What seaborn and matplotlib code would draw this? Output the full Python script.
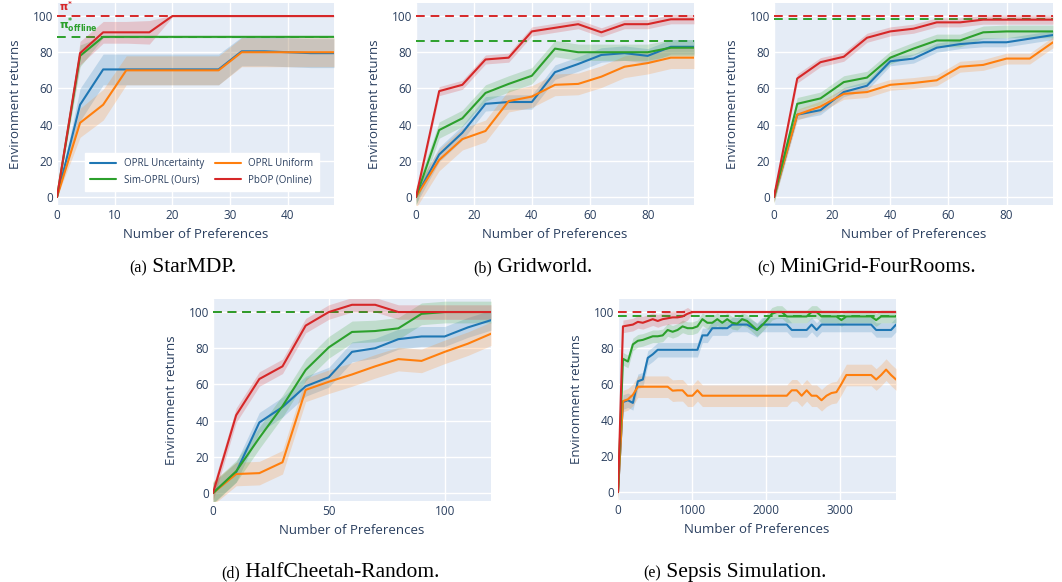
import numpy as np
import matplotlib
matplotlib.use("Agg")
import matplotlib.pyplot as plt
import seaborn as sns

# ─── Data ────────────────────────────────────────────────────────────────────
SERIES = ["OPRL Uncertainty", "OPRL Uniform", "Sim-OPRL (Ours)", "PbOP (Online)"]
COLORS = ["#1f77b4", "#ff7f0e", "#2ca02c", "#d62728"]

# (a) StarMDP
A_X = [0, 4, 8, 12, 16, 20, 24, 28, 32, 36, 40, 44, 48]
A_UNC = [0, 51, 70.5, 70.5, 70.5, 70.5, 70.5, 70.5, 80.5, 80.5, 80, 79.5, 79.5]
A_UNI = [0, 41, 51, 70, 70, 70, 70, 70, 80, 80, 80, 80, 80]
A_SIM = [0, 78, 88.5, 88.5, 88.5, 88.5, 88.5, 88.5, 88.5, 88.5, 88.5, 88.5, 88.5]
A_PBOP = [0, 79.5, 91, 91, 91, 100, 100, 100, 100, 100, 100, 100, 100]
A_UNC_ERR = [0, 9, 8.5, 8.5, 8.5, 8.5, 8.5, 8.5, 8, 8, 8, 8, 8]
A_UNI_ERR = [0, 8, 8.5, 8, 8, 8, 8, 8, 8, 8, 8, 8, 8]
A_SIM_ERR = [0, 6, 0.5, 0.5, 0.5, 0.5, 0.5, 0.5, 0.5, 0.5, 0.5, 0.5, 0.5]
A_PBOP_ERR = [0, 6.5, 6, 6, 6.5, 0.5, 0.5, 0.5, 0.5, 0.5, 0.5, 0.5, 0.5]
A_OFFLINE = 88.5

# (b) Gridworld
B_X = [0, 8, 16, 24, 32, 40, 48, 56, 64, 72, 80, 88, 96]
B_UNC = [0, 23.5, 35.5, 51.5, 52.5, 52.5, 69, 73.5, 78.5, 79.5, 78, 83, 83]
B_UNI = [0, 20.5, 32, 36.5, 53, 55.5, 62, 62.5, 66.5, 72, 74, 77, 77]
B_SIM = [0, 37, 43.5, 57.5, 62.5, 67, 82, 80, 80, 80, 80, 82.5, 82.5]
B_PBOP = [0, 58.5, 62, 76, 77, 91.5, 93.5, 95.5, 91, 95.5, 95.5, 98.2, 98.2]
B_ERR = [4, 6, 4.5, 2.5]
B_OFFLINE = 86.2

# (c) MiniGrid-FourRooms
C_X = [0, 8, 16, 24, 32, 40, 48, 56, 64, 72, 80, 88, 96]
C_UNC = [0, 45.5, 48, 58, 61.5, 75, 76.5, 82.5, 84.5, 85.5, 85.5, 87.5, 89.5]
C_UNI = [0, 45.5, 50, 57, 58, 62, 63, 64.5, 72, 73, 76.5, 76.5, 85.5]
C_SIM = [0, 51.5, 54.5, 63.5, 66, 77, 82, 86.5, 86.5, 91, 91.5, 91.5, 91.5]
C_PBOP = [0, 65.5, 74.5, 77.5, 88, 91.5, 93, 96.5, 96.5, 98, 98, 98, 98]
C_ERR = [2.5, 3, 3.5, 2.5]
C_OFFLINE = 98.3

# (d) HalfCheetah-Random
D_X = [0, 10, 20, 30, 40, 50, 60, 70, 80, 90, 100, 110, 120]
D_UNC = [0, 11.5, 39, 47.5, 59, 64, 78, 80, 85, 86.5, 86.5, 91.5, 95.5]
D_UNI = [0, 10.5, 11, 17, 57, 61.5, 65.5, 70, 74, 73, 78, 82.5, 88]
D_SIM = [0, 12, 30.5, 48, 68, 80.5, 89, 89.5, 91, 99, 100, 100, 100]
D_PBOP = [0, 43, 63, 70, 92.5, 100, 104, 104, 100, 100, 100, 100, 100]
D_ERR = [5.5, 6.5, 6, 4]
D_OFFLINE = 100

# (e) Sepsis Simulation
E_X = [0, 67, 134, 201, 268, 335, 402, 469, 536, 603, 670, 737, 804, 871, 938,
       1005, 1072, 1139, 1206, 1273, 1340, 1407, 1474, 1541, 1608, 1675, 1742,
       1809, 1876, 1943, 2010, 2077, 2144, 2211, 2278, 2345, 2412, 2479, 2546,
       2613, 2680, 2747, 2814, 2881, 2948, 3015, 3082, 3149, 3216, 3283, 3350,
       3417, 3484, 3551, 3618, 3685, 3752]
E_UNC = [0, 50, 51, 49.5, 61.5, 62.5, 74.5, 76.5, 79, 79, 79, 79, 79, 79, 79,
         79, 79, 87, 87, 91, 91, 91, 91, 93, 93, 93, 93, 91.5, 90, 93,
         93, 93, 93, 93, 93, 90, 90, 90, 90, 93, 90, 93, 93, 93, 93,
         93, 93, 93, 93, 93, 93, 93, 90, 90, 90, 90, 93]
E_UNI = [0, 50.5, 51.5, 54, 58.5, 58.5, 58.5, 58.5, 58.5, 58.5, 58.5, 56.3, 56.5, 56.5, 53.5,
         53.5, 56.5, 53.5, 53.5, 53.5, 53.5, 53.5, 53.5, 53.5, 53.5, 53.5, 53.5, 53.5, 53.5, 53.5,
         53.5, 53.5, 53.5, 53.5, 53.5, 56.5, 56.5, 53.5, 56.5, 53.5, 53.5, 51, 53.5, 55, 55.5,
         60, 65, 65, 65, 65, 65, 65, 62.5, 65, 68, 65, 62.5]
E_SIM = [0, 74, 72.5, 82, 84, 84.5, 85.5, 86.5, 86.5, 87, 90, 89, 90, 92, 91,
         91, 92, 96, 94, 94, 96, 94, 96, 94, 93.5, 96, 95, 92.5, 90, 92.5,
         95.5, 99, 100, 100, 97.5, 97.5, 97.5, 97.5, 97.5, 100, 100, 97.5, 97.5, 97.5, 97.5,
         95.5, 97.5, 97.5, 97.5, 97.5, 97.5, 97.5, 95.5, 97.5, 97.5, 97.5, 97.5]
E_PBOP = [0, 92, 92.5, 93, 94.5, 94, 95, 96, 95, 96, 96.5, 97, 97, 97.5, 99,
          100, 100, 100, 100, 100, 100, 100, 100, 100, 100, 100, 100, 100, 100, 100,
          100, 100, 100, 100, 100, 100, 100, 100, 100, 100, 100, 100, 100, 100, 100,
          100, 100, 100, 100, 100, 100, 100, 100, 100, 100, 100, 100]
E_PBOP_ERR = [3.5, 3.5, 3.5, 3.5, 3.5, 3.5, 3.5, 3.5, 3.5, 3.5, 3.5, 3.5, 3.5, 3.5, 3.5,
              0.6, 0.6, 0.6, 0.6, 0.6, 0.6, 0.6, 0.6, 0.6, 0.6, 0.6, 0.6, 0.6, 0.6, 0.6,
              0.6, 0.6, 0.6, 0.6, 0.6, 0.6, 0.6, 0.6, 0.6, 0.6, 0.6, 0.6, 0.6, 0.6, 0.6,
              0.6, 0.6, 0.6, 0.6, 0.6, 0.6, 0.6, 0.6, 0.6, 0.6, 0.6, 0.6]
E_ERR = [4, 6, 3.5, E_PBOP_ERR]
E_OFFLINE = 97.5

ONLINE = 100

X_TICKS = {"a": [0, 10, 20, 30, 40], "b": [0, 20, 40, 60, 80],
           "c": [0, 20, 40, 60, 80], "d": [0, 50, 100], "e": [0, 1000, 2000, 3000]}
Y_TICKS = [0, 20, 40, 60, 80, 100]

CAPTIONS = [("(a)", "StarMDP."), ("(b)", "Gridworld."), ("(c)", "MiniGrid-FourRooms."),
            ("(d)", "HalfCheetah-Random."), ("(e)", "Sepsis Simulation.")]

# ─── Style ────────────────────────────────────────────────────────────────────
sns.set_theme(style="darkgrid", rc={
    "axes.facecolor": "#E5ECF6", "grid.color": "white", "grid.linewidth": 1.0,
    "axes.edgecolor": "#E5ECF6", "xtick.color": "#2a3f5f", "ytick.color": "#2a3f5f",
    "axes.labelcolor": "#2a3f5f"})
plt.rcParams["font.family"] = ["Open Sans", "DejaVu Sans"]
plt.rcParams["mathtext.fontset"] = "dejavusans"

W, H = 1062, 582
fig = plt.figure(figsize=(W / 100, H / 100), dpi=100)


def rect(l, t, r, b):
    return [l / W, 1 - b / H, (r - l) / W, (b - t) / H]


def draw_panel(box, xs, means, errs, offline, xticks, xmax):
    ax = fig.add_axes(rect(*box))
    xs = np.asarray(xs, dtype=float)
    dash = (0, (4.5, 3))
    ax.axhline(ONLINE, color=COLORS[3], ls=dash, lw=1.4, zorder=1)
    ax.axhline(offline, color=COLORS[2], ls=dash, lw=1.4, zorder=1)
    for name, m, e, c in zip(SERIES, means, errs, COLORS):
        m = np.asarray(m, dtype=float)
        e = np.broadcast_to(np.asarray(e, dtype=float), m.shape)
        ax.fill_between(xs, m - e, m + e, color=c, alpha=0.2, lw=0, zorder=2)
        sns.lineplot(x=xs, y=m, color=c, lw=1.5, ax=ax, label=name, zorder=3,
                     legend=False)
    ax.set_xlim(0, xmax)
    ax.set_ylim(-4.4, 107.2)
    ax.set_xticks(xticks)
    ax.set_yticks(Y_TICKS)
    ax.tick_params(axis="both", length=0, labelsize=8.5, pad=3)
    ax.set_xlabel("Number of Preferences", fontsize=9.5)
    ax.set_ylabel("Environment returns", fontsize=9.5)
    ax.xaxis.set_label_coords(0.5, -0.115)
    ax.yaxis.set_label_coords(-0.125, 0.5)
    for s in ax.spines.values():
        s.set_visible(False)
    return ax


ax_a = draw_panel((57, 3, 334, 205), A_X, [A_UNC, A_UNI, A_SIM, A_PBOP],
                  [A_UNC_ERR, A_UNI_ERR, A_SIM_ERR, A_PBOP_ERR], A_OFFLINE, X_TICKS["a"], 48)
ax_b = draw_panel((416, 3, 694, 205), B_X, [B_UNC, B_UNI, B_SIM, B_PBOP],
                  B_ERR, B_OFFLINE, X_TICKS["b"], 96)
ax_c = draw_panel((774, 3, 1053, 205), C_X, [C_UNC, C_UNI, C_SIM, C_PBOP],
                  C_ERR, C_OFFLINE, X_TICKS["c"], 96)
ax_d = draw_panel((213, 299, 491, 501), D_X, [D_UNC, D_UNI, D_SIM, D_PBOP],
                  D_ERR, D_OFFLINE, X_TICKS["d"], 120)
ax_e = draw_panel((618, 299, 896, 500), E_X, [E_UNC, E_UNI, E_SIM, E_PBOP],
                  E_ERR, E_OFFLINE, X_TICKS["e"], 3752)

# legend on the StarMDP panel (row-major order like the original)
h, l = ax_a.get_legend_handles_labels()
order = [0, 2, 1, 3]
ax_a.legend([h[i] for i in order], [l[i] for i in order], ncol=2, loc="lower right",
            bbox_to_anchor=(0.965, 0.045), fontsize=7, frameon=True, fancybox=False,
            facecolor="white", edgecolor="white", framealpha=1, handlelength=2.6,
            columnspacing=1.2, borderpad=0.6, labelspacing=0.5, labelcolor="#2a3f5f")

# optimal-policy markers
ax_a.text(0.3, 100.9, r"$\mathbf{\pi^{*}}$", color=COLORS[3], fontsize=7.5,
          va="bottom", ha="left")
ax_a.text(0.3, 89.6, r"$\mathbf{\pi^{*}_{offline}}$", color=COLORS[2], fontsize=8,
          va="bottom", ha="left")

# ─── Captions (small tag + larger serif name, centred under each panel) ──────
CAP_CENTERS = [(183, 272), (533, 272), (866, 272), (330, 577), (735, 577)]
renderer = fig.canvas.get_renderer()
for (tag, name), (cx, base) in zip(CAPTIONS, CAP_CENTERS):
    t1 = fig.text(0, 1 - base / H, tag, fontsize=11.5, va="baseline", ha="left",
                  family="Liberation Serif", color="black")
    t2 = fig.text(0, 1 - base / H, " " + name, fontsize=15.5, va="baseline", ha="left",
                  family="Liberation Serif", color="black")
    w1 = t1.get_window_extent(renderer).width
    w2 = t2.get_window_extent(renderer).width
    left = cx - (w1 + w2) / 2
    t1.set_x(left / W)
    t2.set_x((left + w1) / W)

fig.savefig("out.png", dpi=100, facecolor="white")
